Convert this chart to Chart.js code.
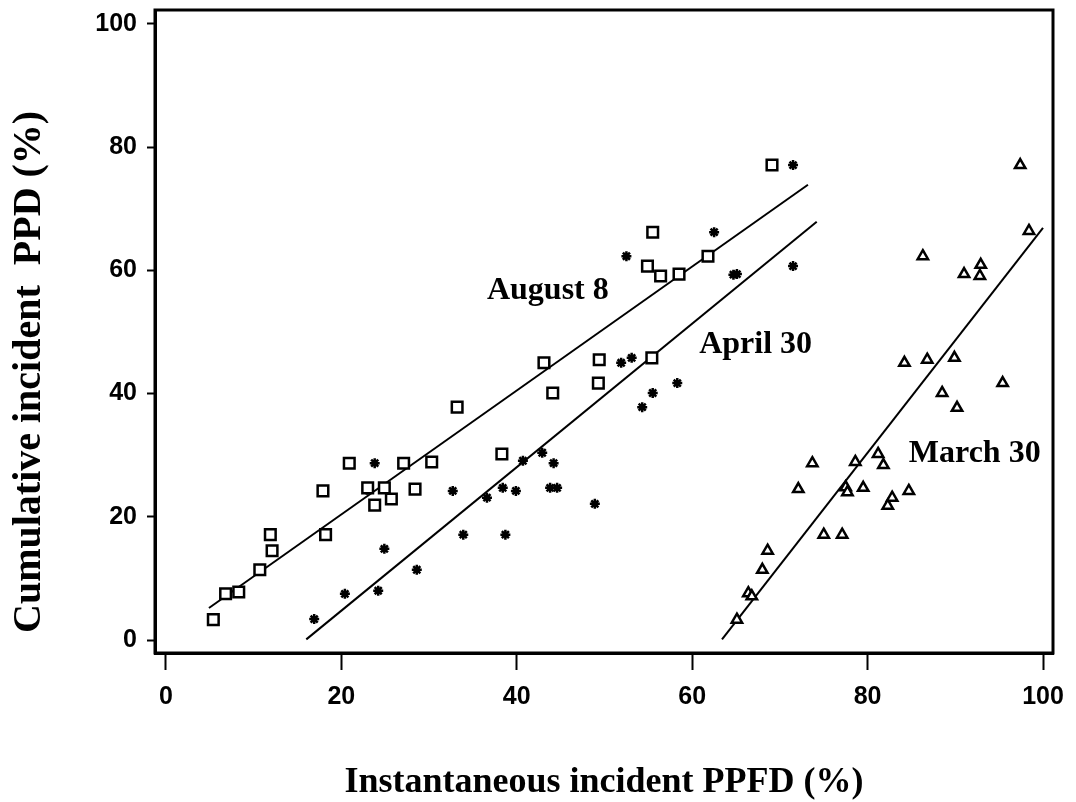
<!DOCTYPE html>
<html><head><meta charset="utf-8">
<script src="https://cdn.jsdelivr.net/npm/chart.js@4.4.1/dist/chart.umd.min.js"></script>
<style>html,body{margin:0;padding:0;background:#fff;overflow:hidden}</style>
</head><body>
<canvas id="c" width="1076" height="802"></canvas>
<script>
// ---- Data ----
const augX = [5.4, 6.8, 8.3, 10.7, 11.9, 12.1, 17.9, 18.2, 20.9, 23.0, 23.8, 24.9, 25.7, 27.1, 28.4, 30.3, 33.2, 38.3, 43.1, 44.1, 49.4, 49.3, 55.4, 55.5, 54.9, 56.4, 58.5, 61.8, 69.1];
const augY = [3.3, 7.5, 7.8, 11.4, 17.1, 14.5, 24.2, 17.1, 28.7, 24.7, 21.9, 24.7, 22.9, 28.7, 24.5, 28.9, 37.8, 30.2, 45.0, 40.1, 45.5, 41.7, 45.8, 66.2, 60.7, 59.1, 59.4, 62.3, 77.1];

const aprX = [16.9, 20.4, 24.2, 24.9, 28.6, 23.8, 22.9, 32.7, 33.9, 36.6, 38.7, 38.4, 39.9, 40.7, 42.9, 44.2, 43.8, 44.6, 48.9, 54.3, 55.5, 58.3, 51.9, 53.1, 52.5, 62.5, 64.7, 65.1, 71.5, 71.5];
const aprY = [3.4, 7.5, 8.0, 14.8, 11.4, 28.7, 24.4, 24.2, 17.1, 23.1, 17.1, 24.7, 24.2, 29.1, 30.4, 28.7, 24.7, 24.7, 22.1, 37.8, 40.1, 41.7, 45.0, 45.8, 62.3, 66.2, 59.3, 59.4, 60.7, 77.1];

const marX = [65.1, 66.4, 66.8, 68.0, 68.6, 72.1, 73.7, 75.0, 77.1, 77.5, 77.7, 78.6, 79.5, 81.2, 81.8, 82.3, 82.8, 84.7, 84.2, 86.8, 89.9, 88.5, 90.2, 95.4, 86.3, 91.0, 92.9, 92.8, 98.4, 97.4];
const marY = [3.3, 7.6, 7.1, 11.4, 14.5, 24.5, 28.7, 17.1, 17.1, 24.8, 24.0, 28.9, 24.7, 30.2, 28.4, 21.8, 23.1, 24.2, 45.0, 45.5, 45.8, 40.1, 37.7, 41.7, 62.3, 59.4, 60.9, 59.1, 66.4, 77.1];

// fitted regression lines (end points)
const augLineX = [4.9, 73.2];
const augLineY = [5.2, 73.9];
const aprLineX = [16.0, 74.2];
const aprLineY = [0.1, 67.9];
const marLineX = [63.4, 100.0];
const marLineY = [0.1, 66.9];

// ticks and texts
const xTicks = [0, 20, 40, 60, 80, 100];
const yTicks = [0, 20, 40, 60, 80, 100];
const xTitle = 'Instantaneous incident PPFD (%)';
const yTitle = '  Cumulative incident  PPD (%)';
const labelTexts = ['August 8', 'April 30', 'March 30'];
const labelX = [36.6, 60.8, 84.7];
const labelY = [55.4, 46.6, 28.9];

// ---- Chart ----
const pts = (xs, ys) => xs.map((x, i) => ({x: x, y: ys[i]}));

const framePlugin = {
  id: 'frame',
  afterDraw(chart) {
    const {ctx, chartArea: a} = chart;
    ctx.save();
    ctx.strokeStyle = '#000';
    ctx.lineWidth = 3;
    ctx.strokeRect(a.left, a.top, a.right - a.left, a.bottom - a.top);
    ctx.restore();
  }
};

const labelPlugin = {
  id: 'seriesLabels',
  afterDatasetsDraw(chart) {
    const {ctx, scales: {x, y}} = chart;
    ctx.save();
    ctx.fillStyle = '#000';
    ctx.font = "bold 32px 'Liberation Serif', 'Times New Roman', serif";
    ctx.textAlign = 'left';
    ctx.textBaseline = 'alphabetic';
    labelTexts.forEach((t, i) => {
      ctx.fillText(t, x.getPixelForValue(labelX[i]), y.getPixelForValue(labelY[i]));
    });
    ctx.restore();
  }
};

const tickFont = {family: "'Liberation Sans', Arial, sans-serif", weight: 'bold', size: 25};
const xTitleFont = {family: "'Liberation Serif', 'Times New Roman', serif", weight: 'bold', size: 36, lineHeight: 1.05};
const yTitleFont = {family: "'Liberation Serif', 'Times New Roman', serif", weight: 'bold', size: 40, lineHeight: 1.0};

const noPad = s => { s.paddingTop = 0; s.paddingBottom = 0; s.paddingLeft = 0; s.paddingRight = 0; };

new Chart(document.getElementById('c'), {
  type: 'scatter',
  data: {
    datasets: [
      {data: pts(augX, augY), pointStyle: 'rect', pointRadius: 7.5, borderWidth: 2.5, borderColor: '#000', backgroundColor: '#fff'},
      {data: pts(aprX, aprY), pointStyle: 'star', pointRadius: 5, borderWidth: 2.5, borderColor: '#000', backgroundColor: '#000'},
      {data: pts(marX, marY), pointStyle: 'triangle', pointRadius: 6, borderWidth: 2.5, borderColor: '#000', backgroundColor: '#fff'},
      {type: 'line', data: pts(augLineX, augLineY), showLine: true, pointRadius: 0, borderWidth: 2, borderColor: '#000', fill: false},
      {type: 'line', data: pts(aprLineX, aprLineY), showLine: true, pointRadius: 0, borderWidth: 2, borderColor: '#000', fill: false},
      {type: 'line', data: pts(marLineX, marLineY), showLine: true, pointRadius: 0, borderWidth: 2, borderColor: '#000', fill: false}
    ]
  },
  options: {
    responsive: false,
    animation: false,
    devicePixelRatio: 1,
    layout: {padding: {top: 10, right: 23, left: 0, bottom: 0}},
    plugins: {legend: {display: false}, tooltip: {enabled: false}},
    scales: {
      x: {
        type: 'linear', position: 'bottom', min: -1.25, max: 101.14,
        afterBuildTicks: s => { s.ticks = xTicks.map(v => ({value: v})); },
        afterFit: s => { s.height = 149; noPad(s); },
        grid: {drawOnChartArea: false, drawTicks: true, tickLength: 17, tickWidth: 2, tickColor: '#000'},
        border: {display: true, width: 3, color: '#000'},
        ticks: {font: tickFont, color: '#000', padding: 12, maxRotation: 0},
        title: {display: true, text: xTitle, font: xTitleFont, color: '#000', padding: {top: 0, bottom: 0}}
      },
      y: {
        type: 'linear', position: 'left', min: -2.11, max: 102.27,
        afterBuildTicks: s => { s.ticks = yTicks.map(v => ({value: v})); },
        afterFit: s => { s.width = 155; noPad(s); },
        grid: {drawOnChartArea: false, drawTicks: true, tickLength: 8, tickWidth: 2, tickColor: '#000'},
        border: {display: true, width: 3, color: '#000'},
        ticks: {font: tickFont, color: '#000', padding: 10},
        title: {display: true, text: yTitle, align: 'start', font: yTitleFont, color: '#000', padding: {top: 10, bottom: 0}}
      }
    }
  },
  plugins: [framePlugin, labelPlugin]
});
</script>
</body></html>
